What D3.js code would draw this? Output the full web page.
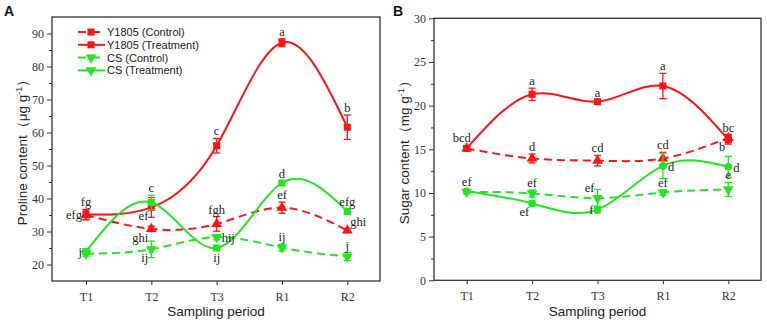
<!DOCTYPE html>
<html><head><meta charset="utf-8">
<script src="https://cdn.jsdelivr.net/npm/d3@7/dist/d3.min.js"></script>
<style>body{margin:0;background:#fff}svg{display:block}</style>
</head><body><svg id="c" width="767" height="321"></svg>
<script>
// ---------- data ----------
const periods = ["T1","T2","T3","R1","R2"];

const prolineTicks = [20,30,40,50,60,70,80,90];
const prolineY1805Control      = [35.0, 30.8, 32.3, 37.2, 30.3];
const prolineY1805ControlErr   = [1.5, 0.8, 2.2, 1.7, 0.6];
const prolineY1805Treatment    = [35.2, 37.3, 56.0, 87.2, 61.6];
const prolineY1805TreatmentErr = [1.5, 3.0, 2.2, 1.2, 3.7];
const prolineCSControl         = [23.3, 24.6, 28.3, 25.1, 22.4];
const prolineCSControlErr      = [0.8, 2.5, 0.8, 1.0, 1.2];
const prolineCSTreatment       = [23.9, 38.8, 25.0, 44.7, 36.1];
const prolineCSTreatmentErr    = [0.8, 2.2, 0.6, 0.7, 0.7];
const prolineLettersY1805Control   = ["efg","ghi","fgh","ef","ghi"];
const prolineLettersY1805Treatment = ["fg","ef","c","a","b"];
const prolineLettersCSControl      = ["","ij","hij","ij","j"];
const prolineLettersCSTreatment    = ["j","c","ij","d","efg"];

const sugarTicks = [0,5,10,15,20,25,30];
const sugarY1805Control      = [15.1, 13.95, 13.7, 13.95, 16.3];
const sugarY1805ControlErr   = [0.2, 0.5, 0.6, 0.7, 0.4];
const sugarY1805Treatment    = [15.1, 21.3, 20.45, 22.25, 16.1];
const sugarY1805TreatmentErr = [0.2, 0.7, 0.2, 1.45, 0.5];
const sugarCSControl         = [10.1, 9.95, 9.4, 10.05, 10.4];
const sugarCSControlErr      = [0.2, 0.4, 1.0, 0.3, 0.8];
const sugarCSTreatment       = [10.2, 8.8, 8.1, 13.1, 13.0];
const sugarCSTreatmentErr    = [0.2, 0.3, 0.4, 1.45, 1.2];
const sugarLettersY1805Control   = ["","d","cd","cd","b"];
const sugarLettersY1805Treatment = ["bcd","a","a","a","bc"];
const sugarLettersCSControl      = ["","ef","ef","ef","e"];
const sugarLettersCSTreatment    = ["ef","ef","f","d","d"];

const legendLabels = ["Y1805 (Control)","Y1805 (Treatment)","CS (Control)","CS (Treatment)"];

// ---------- styling / layout ----------
const RED = "#ff1414", GREEN = "#22e622";
const AXIS = "#333";
const svg = d3.select("#c");

function panel(cfg){
  const g = svg.append("g");
  const x = d3.scaleLinear().domain(cfg.xDomain).range([cfg.left, cfg.right]);
  const y = d3.scaleLinear().domain(cfg.yDomain).range([cfg.bottom, cfg.top]);

  // frame
  g.append("rect").attr("x",cfg.left).attr("y",cfg.top)
    .attr("width",cfg.right-cfg.left).attr("height",cfg.bottom-cfg.top)
    .attr("fill","none").attr("stroke",AXIS).attr("stroke-width",1.3);

  // y axis
  const ya = d3.axisLeft(y).tickValues(cfg.yTicks).tickSize(5).tickFormat(d3.format("d"));
  const yg = g.append("g").attr("transform",`translate(${cfg.left},0)`).call(ya);
  const minor = [];
  for (let i=0;i<cfg.yTicks.length;i++){
    const step = cfg.yTicks[1]-cfg.yTicks[0];
    const m = cfg.yTicks[i]-step/2;
    if (m>cfg.yDomain[0]) minor.push(m);
    if (i===cfg.yTicks.length-1 && cfg.yTicks[i]+step/2<cfg.yDomain[1]) minor.push(cfg.yTicks[i]+step/2);
  }
  g.append("g").attr("transform",`translate(${cfg.left},0)`)
    .call(d3.axisLeft(y).tickValues(minor).tickSize(3).tickFormat(""))
    .call(s=>s.select(".domain").remove())
    .selectAll("line").attr("stroke",AXIS);
  yg.select(".domain").remove();
  yg.selectAll("line").attr("stroke",AXIS);
  yg.selectAll("text").attr("font-family","'Liberation Serif',serif").attr("font-size",12).attr("fill","#333");

  // x axis
  const xa = d3.axisBottom(x).tickValues(d3.range(periods.length)).tickSize(4).tickFormat(i=>periods[i]);
  const xg = g.append("g").attr("transform",`translate(0,${cfg.bottom})`).call(xa);
  xg.select(".domain").remove();
  xg.selectAll("line").attr("stroke",AXIS);
  xg.selectAll("text").attr("font-family","'Liberation Serif',serif").attr("font-size",12).attr("fill","#333").attr("dy","1.05em");

  // titles
  g.append("text").attr("x",(cfg.left+cfg.right)/2).attr("y",316)
    .attr("text-anchor","middle").attr("font-family","'Liberation Sans',Arial,sans-serif")
    .attr("font-size",13.5).attr("fill","#222").text("Sampling period");
  const yt = g.append("text").attr("transform",`translate(${cfg.ytX},${(cfg.top+cfg.bottom)/2}) rotate(-90)`)
    .attr("text-anchor","middle").attr("font-family","'Liberation Sans',Arial,sans-serif")
    .attr("font-size",13.5).attr("fill","#222");
  yt.append("tspan").text(cfg.yTitle[0]);
  yt.append("tspan").attr("dy",-5).attr("font-size",9).text("-1");
  yt.append("tspan").attr("dy",5).text("）");

  g.append("text").attr("x",cfg.labelX).attr("y",16).attr("font-family","'Liberation Sans',Arial,sans-serif")
    .attr("font-weight","bold").attr("font-size",14).attr("fill","#111").text(cfg.label);

  const idx = d3.range(periods.length);
  cfg.series.forEach(s=>{
    const line = d3.line().x(i=>x(i)).y(i=>y(s.values[i])).curve(d3.curveNatural);
    g.append("path").attr("d",line(idx)).attr("fill","none").attr("stroke",s.color)
      .attr("stroke-width",2).attr("stroke-dasharray",s.dashed?"8,5":null);
    // error bars
    idx.forEach(i=>{
      const cx=x(i), y1=y(s.values[i]+s.err[i]), y2=y(s.values[i]-s.err[i]);
      g.append("line").attr("x1",cx).attr("x2",cx).attr("y1",y1).attr("y2",y2).attr("stroke",s.color).attr("stroke-width",1.3);
      [y1,y2].forEach(yy=>g.append("line").attr("x1",cx-3.5).attr("x2",cx+3.5).attr("y1",yy).attr("y2",yy).attr("stroke",s.color).attr("stroke-width",1.3));
    });
    // markers
    g.selectAll(null).data(idx).enter().append("path")
      .attr("transform",i=>`translate(${x(i)},${y(s.values[i])})${s.shape==="down"?" rotate(180)":""}`)
      .attr("d",d3.symbol().type(s.shape==="square"?d3.symbolSquare:(s.shape==="circle"?d3.symbolCircle:d3.symbolTriangle)).size(s.shape==="circle"?45:50))
      .attr("fill",s.color);
    // letters
    idx.forEach(i=>{
      const t = s.letters[i]; if(!t) return;
      const p = s.place[i];
      const cx=x(i), cy=y(s.values[i]), top=y(s.values[i]+s.err[i]), bot=y(s.values[i]-s.err[i]);
      let tx=cx, ty=top-3, anchor="middle";
      if(p==="l"){tx=cx-4;ty=cy+4;anchor="end";}
      else if(p==="r"){tx=cx+5;ty=cy+5;anchor="start";}
      else if(p==="b"){ty=bot+12;}
      else if(p==="lb"){tx=cx-3;ty=cy+13;anchor="end";}
      else if(p==="lt"){tx=cx-3;ty=cy-6;anchor="end";}
      else if(p==="tl"){tx=cx+4;ty=cy-6;anchor="end";}
      else if(p==="rt"){tx=cx+3;ty=cy-5;anchor="start";}
      g.append("text").attr("x",tx).attr("y",ty).attr("text-anchor",anchor)
        .attr("font-family","'Liberation Serif',serif").attr("font-size",12.5).attr("fill","#222").text(t);
    });
  });
  return g;
}

const gA = panel({
  left:52, right:380, top:17, bottom:281, xDomain:[-0.52,4.5], yDomain:[15,95], yTicks:prolineTicks,
  ytX:27, yTitle:["Proline content（μg g"], label:"A", labelX:4,
  series:[
    {values:prolineY1805Treatment, err:prolineY1805TreatmentErr, color:RED, dashed:false, shape:"square",
     letters:prolineLettersY1805Treatment, place:["t","lb","t","t","t"]},
    {values:prolineY1805Control, err:prolineY1805ControlErr, color:RED, dashed:true, shape:"up",
     letters:prolineLettersY1805Control, place:["l","lb","t","t","rt"]},
    {values:prolineCSTreatment, err:prolineCSTreatmentErr, color:GREEN, dashed:false, shape:"square",
     letters:prolineLettersCSTreatment, place:["l","t","b","t","t"]},
    {values:prolineCSControl, err:prolineCSControlErr, color:GREEN, dashed:true, shape:"down",
     letters:prolineLettersCSControl, place:["t","lb","r","t","t"]}
  ]
});

panel({
  left:434, right:761, top:18.3, bottom:280.3, xDomain:[-0.5,4.5], yDomain:[0,30], yTicks:sugarTicks,
  ytX:409, yTitle:["Sugar content（mg g"], label:"B", labelX:393,
  series:[
    {values:sugarY1805Treatment, err:sugarY1805TreatmentErr, color:RED, dashed:false, shape:"square",
     letters:sugarLettersY1805Treatment, place:["tl","t","t","t","t"]},
    {values:sugarY1805Control, err:sugarY1805ControlErr, color:RED, dashed:true, shape:"up",
     letters:sugarLettersY1805Control, place:["t","t","t","t","lb"]},
    {values:sugarCSTreatment, err:sugarCSTreatmentErr, color:GREEN, dashed:false, shape:"circle",
     letters:sugarLettersCSTreatment, place:["t","lb","l","r","r"]},
    {values:sugarCSControl, err:sugarCSControlErr, color:GREEN, dashed:true, shape:"down",
     letters:sugarLettersCSControl, place:["t","t","lt","t","t"]}
  ]
});

// legend (panel A)
const legendStyles = [
  {color:RED, dashed:true, shape:"square"},
  {color:RED, dashed:false, shape:"square"},
  {color:GREEN, dashed:true, shape:"down"},
  {color:GREEN, dashed:false, shape:"down"}
];
const lg = svg.append("g");
legendLabels.forEach((t,i)=>{
  const yy = 32 + i*12.8, st = legendStyles[i];
  lg.append("line").attr("x1",78).attr("x2",105).attr("y1",yy).attr("y2",yy)
    .attr("stroke",st.color).attr("stroke-width",2).attr("stroke-dasharray",st.dashed?"8,6":null);
  lg.append("path").attr("transform",`translate(91,${yy})${st.shape==="down"?" rotate(180)":""}`)
    .attr("d",d3.symbol().type(st.shape==="square"?d3.symbolSquare:d3.symbolTriangle).size(50)).attr("fill",st.color);
  lg.append("text").attr("x",107).attr("y",yy+4).attr("font-family","'Liberation Sans',Arial,sans-serif")
    .attr("font-size",11).attr("fill","#222").text(t);
});
</script></body></html>
